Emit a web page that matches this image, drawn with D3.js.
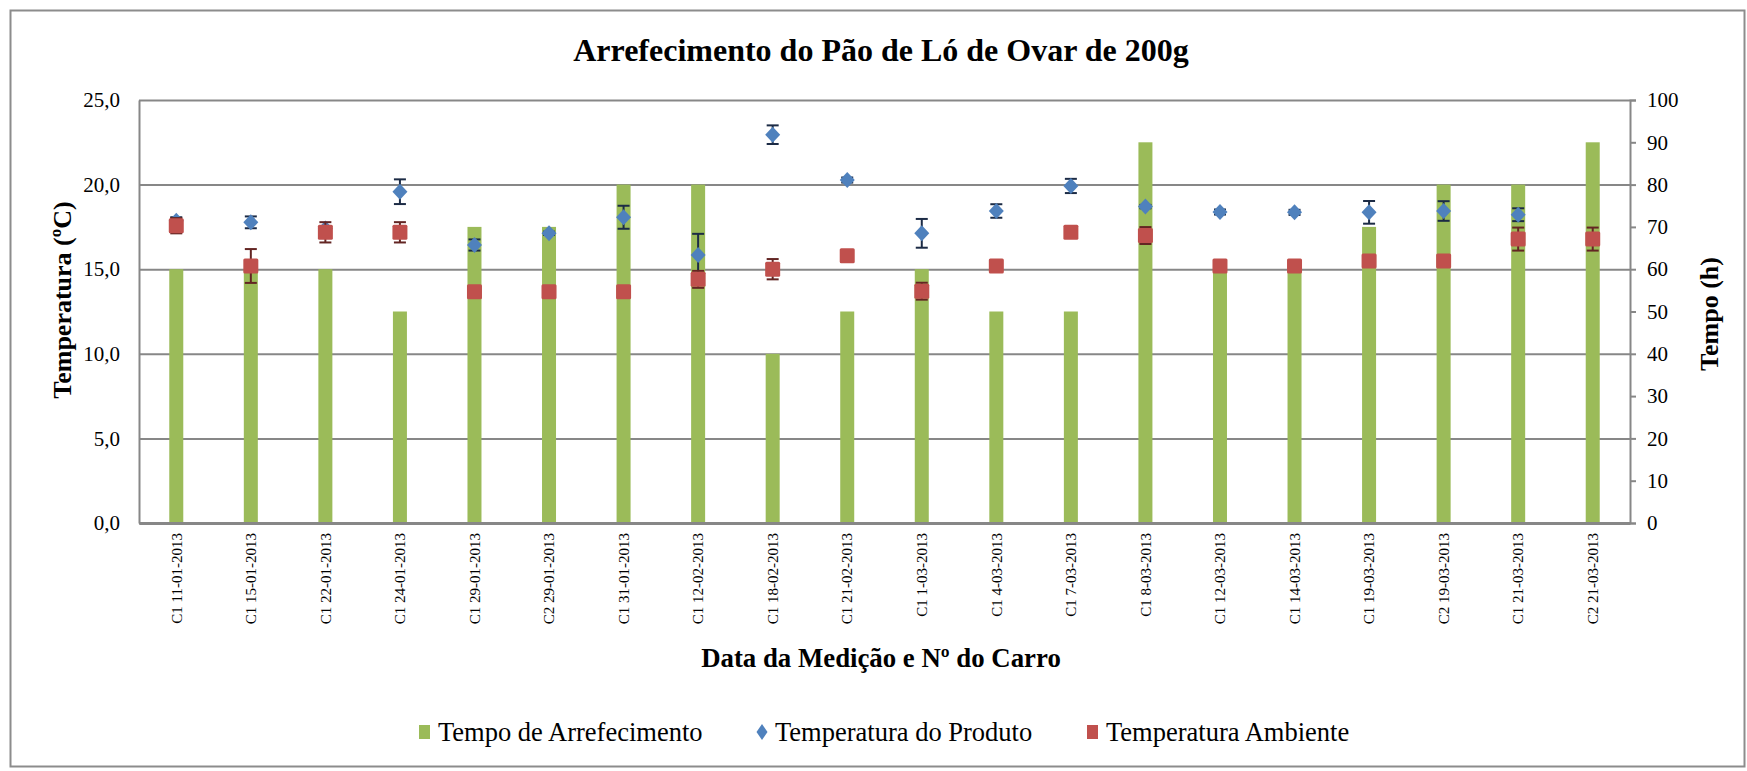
<!DOCTYPE html>
<html>
<head>
<meta charset="utf-8">
<script src="https://cdn.jsdelivr.net/npm/d3@7"></script>
<style>
  body { margin: 0; background: #fff; }
  text { font-family: "Liberation Serif", "Times New Roman", serif; fill: #000; }
</style>
</head>
<body>
<svg width="1747" height="771"></svg>
<script>
// categorias (data da medição e nº do carro)
var categories = ["C1 11-01-2013", "C1 15-01-2013", "C1 22-01-2013", "C1 24-01-2013", "C1 29-01-2013",
    "C2 29-01-2013", "C1 31-01-2013", "C1 12-02-2013", "C1 18-02-2013", "C1 21-02-2013",
    "C1 1-03-2013", "C1 4-03-2013", "C1 7-03-2013", "C1 8-03-2013", "C1 12-03-2013",
    "C1 14-03-2013", "C1 19-03-2013", "C2 19-03-2013", "C1 21-03-2013", "C2 21-03-2013"];

// tempo de arrefecimento (h) - eixo da direita
var tempo = [60, 60, 60, 50, 70, 70, 80, 80, 40, 50, 60, 50, 50, 90, 60, 60, 70, 80, 80, 90];

// temperatura do produto (ºC) e desvio
var produto = [17.87, 17.77, 17.4, 19.58, 16.43, 17.12, 18.07, 15.84, 22.95, 20.27,
    17.12, 18.44, 19.92, 18.7, 18.38, 18.36, 18.36, 18.44, 18.22, null];
var produtoErr = [0.2, 0.35, 0.1, 0.73, 0.33, 0.1, 0.68, 1.25, 0.55, 0.15,
    0.85, 0.4, 0.42, 0.1, 0.15, 0.15, 0.67, 0.58, 0.38, 0];

// temperatura ambiente (ºC) e desvio
var ambiente = [17.57, 15.19, 17.18, 17.18, 13.67, 13.67, 13.67, 14.4, 15.0, 15.8,
    13.7, 15.19, 17.18, 16.99, 15.19, 15.19, 15.48, 15.48, 16.78, 16.78];
var ambienteErr = [0.45, 1.0, 0.6, 0.6, 0, 0, 0, 0.5, 0.6, 0,
    0.5, 0, 0, 0.5, 0, 0, 0, 0, 0.68, 0.68];

var leftTicks = [0, 5, 10, 15, 20, 25];
var rightTicks = [0, 10, 20, 30, 40, 50, 60, 70, 80, 90, 100];

var svg = d3.select("svg");
var margin = {top: 100, left: 139, right: 117, bottom: 248};
var width = 1747 - margin.left - margin.right,
    height = 771 - margin.top - margin.bottom;

// moldura exterior
svg.append("rect")
    .attr("x", 10.5).attr("y", 10.5)
    .attr("width", 1734).attr("height", 756)
    .attr("fill", "none").attr("stroke", "#8c8c8c").attr("stroke-width", 2);

var g = svg.append("g").attr("transform", "translate(" + margin.left + "," + margin.top + ")");

var x = d3.scaleBand().domain(categories).range([0, width]);
var yL = d3.scaleLinear().domain([0, 25]).range([height, 0]);
var yR = d3.scaleLinear().domain([0, 100]).range([height, 0]);
var cx = function(c) { return x(c) + x.bandwidth() / 2; };

// grelha
g.append("g")
    .attr("class", "grid")
    .call(d3.axisLeft(yL).tickValues(leftTicks).tickSize(-width).tickFormat(""))
    .call(s => s.select(".domain").remove())
    .selectAll("line").attr("stroke", "#878787").attr("stroke-width", 2);

// eixo esquerdo
var ax = g.append("g")
    .call(d3.axisLeft(yL).tickValues(leftTicks).tickSize(0).tickPadding(19)
        .tickFormat(d => d3.format(".1f")(d).replace(".", ",")));
ax.select(".domain").attr("stroke", "#878787").attr("stroke-width", 2);
ax.selectAll("text").style("font-size", "21px").attr("fill", "#000");

// eixo direito
var axR = g.append("g")
    .attr("transform", "translate(" + width + ",0)")
    .call(d3.axisRight(yR).tickValues(rightTicks).tickSize(6).tickPadding(11));
axR.select(".domain").attr("stroke", "#878787").attr("stroke-width", 2);
axR.selectAll("line").attr("stroke", "#878787").attr("stroke-width", 2);
axR.selectAll("text").style("font-size", "21px").attr("fill", "#000");

// barras
g.selectAll(".bar")
    .data(tempo)
    .enter().append("rect")
    .attr("class", "bar")
    .attr("x", (d, i) => cx(categories[i]) - 7)
    .attr("width", 14)
    .attr("y", d => yR(d))
    .attr("height", d => height - yR(d))
    .attr("fill", "#9BBB59");

// eixo x
var axB = g.append("g")
    .attr("transform", "translate(0," + height + ")")
    .call(d3.axisBottom(x).tickSize(0).tickPadding(0));
axB.select(".domain").attr("stroke", "#878787").attr("stroke-width", 3);
axB.selectAll("text")
    .style("font-size", "15px")
    .attr("fill", "#000")
    .attr("transform", "rotate(-90)")
    .attr("dy", "0.35em")
    .attr("x", -10)
    .attr("y", 0)
    .style("text-anchor", "end");

// barras de erro
function errorBars(vals, errs, color) {
    var eg = g.append("g");
    vals.forEach(function(v, i) {
        if (v == null || !errs[i]) return;
        var c = cx(categories[i]);
        var y1 = yL(v + errs[i]), y2 = yL(v - errs[i]);
        eg.append("line").attr("x1", c).attr("x2", c).attr("y1", y1).attr("y2", y2)
            .attr("stroke", color).attr("stroke-width", 2);
        [y1, y2].forEach(function(yy) {
            eg.append("line").attr("x1", c - 6).attr("x2", c + 6).attr("y1", yy).attr("y2", yy)
                .attr("stroke", color).attr("stroke-width", 2);
        });
    });
}

errorBars(produto, produtoErr, "#1c2b45");
g.selectAll(".prod")
    .data(produto.map((v, i) => ({c: categories[i], v: v})).filter(d => d.v != null))
    .enter().append("path")
    .attr("class", "prod")
    .attr("transform", d => "translate(" + cx(d.c) + "," + yL(d.v) + ")")
    .attr("d", "M0,-8L7.5,0L0,8L-7.5,0Z")
    .attr("fill", "#4F81BD");

errorBars(ambiente, ambienteErr, "#632523");
g.selectAll(".amb")
    .data(ambiente.map((v, i) => ({c: categories[i], v: v})))
    .enter().append("rect")
    .attr("class", "amb")
    .attr("x", d => cx(d.c) - 7.5)
    .attr("y", d => yL(d.v) - 7.5)
    .attr("width", 15).attr("height", 15)
    .attr("rx", 1.5)
    .attr("fill", "#C0504D");

// títulos
svg.append("text")
    .attr("x", 881).attr("y", 61)
    .attr("text-anchor", "middle")
    .style("font-size", "32px").style("font-weight", "bold")
    .text("Arrefecimento do Pão de Ló de Ovar de 200g");

svg.append("text")
    .attr("transform", "translate(71,300) rotate(-90)")
    .attr("text-anchor", "middle")
    .style("font-size", "26px").style("font-weight", "bold")
    .text("Temperatura (ºC)");

svg.append("text")
    .attr("transform", "translate(1718,314) rotate(-90)")
    .attr("text-anchor", "middle")
    .style("font-size", "26px").style("font-weight", "bold")
    .text("Tempo (h)");

svg.append("text")
    .attr("x", 881).attr("y", 667)
    .attr("text-anchor", "middle")
    .style("font-size", "26.8px").style("font-weight", "bold")
    .text("Data da Medição e Nº do Carro");

// legenda
var legend = [
    {name: "Tempo de Arrefecimento", color: "#9BBB59", shape: "bar", x: 419},
    {name: "Temperatura do Produto", color: "#4F81BD", shape: "diamond", x: 756},
    {name: "Temperatura Ambiente", color: "#C0504D", shape: "square", x: 1087}
];
var lg = svg.append("g").attr("transform", "translate(0,732)");
legend.forEach(function(l) {
    if (l.shape == "diamond") {
        lg.append("path").attr("transform", "translate(" + (l.x + 6) + ",0)")
            .attr("d", "M0,-8L5.5,0L0,8L-5.5,0Z").attr("fill", l.color);
    } else {
        lg.append("rect").attr("x", l.x).attr("y", -7).attr("width", 11).attr("height", 14)
            .attr("fill", l.color);
    }
    lg.append("text").attr("x", l.x + 19).attr("y", 0).attr("dy", "0.33em")
        .style("font-size", "26.5px").text(l.name);
});
</script>
</body>
</html>
